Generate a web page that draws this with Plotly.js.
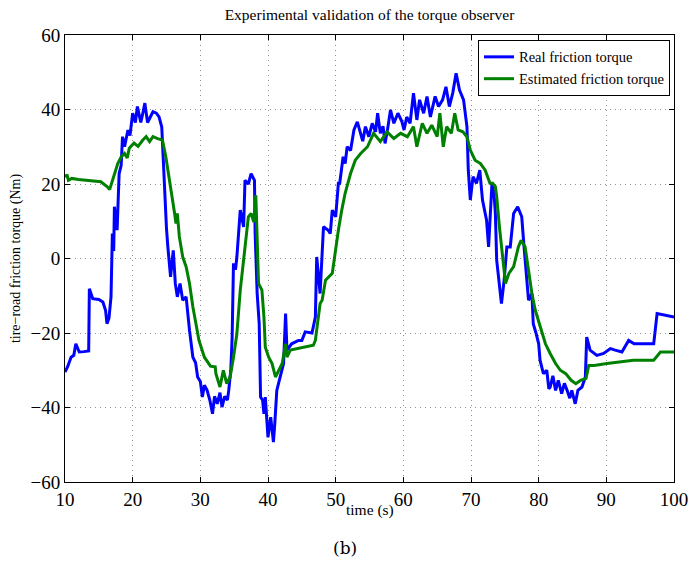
<!DOCTYPE html>
<html>
<head>
<meta charset="utf-8">
<script src="https://cdn.plot.ly/plotly-3.0.1.min.js"></script>
<style>html,body{margin:0;padding:0;background:#fff;}#chart{width:689px;height:566px;}</style>
</head>
<body>
<div id="chart"></div>
<script>
// Real friction torque (blue)
var timeReal = [10.0,10.4,10.9,11.3,11.6,12.1,12.8,13.5,13.6,14.1,15.0,15.6,16.0,16.2,16.5,16.8,17.0,17.2,17.3,17.7,18.0,18.3,18.5,18.8,19.3,19.6,20.0,20.4,20.7,21.2,21.5,21.8,22.2,22.6,23.0,23.5,23.9,24.3,24.7,25.0,25.2,25.6,26.0,26.3,26.6,27.0,27.4,27.9,28.4,28.9,29.3,29.6,30.0,30.3,30.6,31.0,31.4,31.8,32.1,32.5,32.9,33.2,33.6,34.0,34.2,34.5,34.7,34.9,35.2,35.4,35.9,36.2,36.4,36.6,37.1,37.5,38.0,38.1,38.4,38.7,38.9,39.2,39.4,39.6,40.0,40.4,40.8,41.0,41.3,41.8,42.3,42.6,42.8,43.5,44.5,45.0,45.5,46.5,47.0,47.2,47.7,48.2,48.9,49.2,49.5,50.0,50.4,50.6,51.1,51.4,51.7,52.2,52.7,53.2,53.7,54.0,54.4,54.9,55.4,55.9,56.2,56.6,57.0,57.3,57.7,58.1,58.6,59.2,59.8,60.1,60.5,61.0,61.5,62.0,62.4,63.0,63.5,64.0,64.7,65.2,65.8,66.3,66.8,67.3,67.8,68.3,68.9,69.4,69.6,69.9,70.3,70.8,71.3,71.7,72.1,72.3,72.6,73.1,73.4,73.6,73.8,74.2,74.5,74.9,75.3,75.8,76.3,76.9,77.5,77.8,78.3,78.5,79.0,79.2,79.6,80.0,80.2,80.7,81.2,81.5,81.7,82.1,82.5,82.9,83.4,83.8,84.2,84.6,84.9,85.4,85.8,86.4,86.9,87.1,87.6,88.6,89.6,90.6,91.3,92.3,93.3,94.1,95.5,97.0,97.5,98.5,100.0];
var torqueReal = [-30.5,-29,-26.5,-26,-22.9,-25.1,-25,-24.8,-8.1,-10.8,-11,-11.7,-14,-17.5,-16,-10.3,6.7,2,13.9,7.6,22.8,25,32.7,30,34.5,33,39,36.5,40.8,36.5,39,41.7,36.5,38,39.4,39,38,35.3,18.4,8,3.1,-4.9,2.2,-6.7,-10.3,-6.7,-11.2,-10.3,-19.3,-26.5,-28,-31.8,-33,-37.2,-34,-35.4,-38,-41.7,-37,-39,-36,-39.9,-37,-38,-35.4,-30,-21.1,-1.3,-3,0.4,13,10,8.5,21,20,22.8,21,6.7,-9.4,-17.5,-37.2,-38,-41.7,-37.2,-48,-42.6,-49.3,-44.4,-35.4,-31.8,-28.2,-14.8,-24.6,-22.9,-22,-22,-19.7,-20,-15.7,0.4,-9.4,8.5,7.6,6.7,13,11.2,20.2,20.2,27.3,25.5,30,29,34.5,36.7,33.6,31.5,35.4,32.7,36.3,34,39,33.6,35.5,30.9,35,39.9,36.3,39,36.7,34.5,38,36.3,44.4,37.2,42.6,39,43.5,38,43.5,40.8,42.6,46.1,40.8,44.4,49.7,45.2,42.6,35.4,23.7,15.7,22,20.2,23.7,15.7,12.1,10.3,3.1,20.2,17.5,12.1,-0.5,-7.6,-12.1,-5.8,3.1,3.1,12.1,13.9,11.2,4,-7.6,-11.2,-9.4,-17.5,-20,-22.9,-27.3,-30.9,-30,-35,-34.5,-31.5,-35.4,-32.7,-36.3,-33.5,-35.4,-37.5,-35.4,-39,-35.4,-34.5,-31.8,-21.1,-24.6,-26,-25.5,-24.2,-24.6,-25.1,-22,-22.9,-22.9,-22.9,-14.8,-15.2,-15.7];

// Estimated friction torque (green)
var timeEst = [10.0,10.3,10.5,11.0,12.0,13.0,14.0,15.3,16.3,16.6,16.8,17.3,17.8,18.3,18.8,19.2,19.5,20.2,20.8,21.5,22.0,22.5,23.0,23.7,24.4,24.9,25.4,25.8,26.2,26.4,26.6,26.9,27.4,27.9,28.4,28.9,29.4,29.8,30.6,31.5,32.2,32.3,32.9,33.4,33.9,34.4,34.9,35.4,35.9,36.4,36.8,37.1,37.5,37.9,38.2,38.4,38.6,39.1,39.4,39.6,40.1,40.6,41.1,41.6,42.1,42.6,42.8,43.3,44.5,45.8,46.7,47.0,47.2,47.5,47.7,48.0,48.5,49.5,49.9,50.4,50.9,51.4,52.2,52.9,53.7,54.7,55.6,56.6,57.6,58.6,59.6,60.6,61.5,62.0,62.8,63.5,64.2,65.0,65.4,65.9,66.4,67.1,67.6,68.1,68.8,69.4,69.9,70.6,71.4,72.1,72.8,73.2,73.6,73.8,74.2,74.6,75.1,75.6,76.3,77.0,77.4,78.0,78.5,79.0,79.5,80.2,81.0,81.7,82.5,83.2,84.0,84.8,85.5,86.2,87.0,87.4,88.2,90.1,92.1,94.0,97.0,98.0,100.0];
var torqueEst = [21.9,22.5,21,21.5,21.2,21,20.9,20.6,19.2,18.5,19.7,22.4,25.5,27.3,28.2,27,29.6,31,30.1,31.8,32.7,31.4,32.7,32.2,31.8,27.3,21.9,16.6,12.1,9.4,12.1,5.8,0.4,-2.2,-6.7,-13,-17.5,-22,-26.5,-28.9,-29.1,-30.9,-34.5,-30,-33.6,-31.8,-26.5,-20.2,-8.5,-0.5,6.7,11.2,12.1,9.8,17,4.9,-6.7,-8.5,-15.7,-23.8,-26.5,-28.2,-31.8,-30,-28.2,-22.9,-26.5,-24.6,-24.2,-23.8,-23.3,-22,-19.3,-13.9,-12.1,-11.2,-5.8,-4,1.3,7.6,13,17.5,22.8,26.4,28.2,30,33.6,31.4,34,32.2,33.6,32.7,35.4,30,36.3,33.6,35.8,32.7,39,30,35.4,33.6,39,34.5,34,32.7,29.1,26.4,25.5,23.7,20.2,20.2,19.3,16.6,8.5,1.3,-6.7,-4,-2.2,3.1,4.9,3.1,-3.1,-9.4,-13.9,-18.4,-22.9,-25.5,-28.2,-30,-30.9,-32.7,-33.6,-32.7,-32.2,-28.7,-28.7,-28.2,-27.8,-27.3,-27.3,-25.1,-25.1];

var seriesNames = ['Real friction torque', 'Estimated friction torque'];
var xTicks = [10,20,30,40,50,60,70,80,90,100];
var yTicks = [-60,-40,-20,0,20,40,60];

var serif = 'Liberation Serif, Times New Roman, serif';

var traces = [
  {x: timeReal, y: torqueReal, name: seriesNames[0], type: 'scatter', mode: 'lines',
   line: {color: '#0000ff', width: 3}},
  {x: timeEst, y: torqueEst, name: seriesNames[1], type: 'scatter', mode: 'lines',
   line: {color: '#008000', width: 3}}
];

var axisCommon = {
  showline: true, linecolor: '#000', linewidth: 1, mirror: 'ticks',
  ticks: 'inside', ticklen: 5, tickcolor: '#000', tickwidth: 1,
  showgrid: true, gridcolor: '#909090', griddash: '1px,4px', gridwidth: 1,
  zeroline: false, tickfont: {family: serif, size: 19, color: '#000'}
};

var layout = {
  width: 689, height: 566,
  margin: {l: 65, r: 15, t: 35, b: 84},
  paper_bgcolor: '#fff', plot_bgcolor: '#fff',
  font: {family: serif, color: '#000'},
  title: {text: 'Experimental validation of the torque observer', font: {family: serif, size: 15.5, color: '#000'},
          x: 0.5, xref: 'paper', y: 1 - 15/566, yref: 'container', yanchor: 'middle'},
  xaxis: Object.assign({}, axisCommon, {range: [10, 100], tickvals: xTicks}),
  yaxis: Object.assign({}, axisCommon, {range: [-60, 60], tickvals: yTicks,
          title: {text: 'tire\u2212road friction torque (Nm)', font: {family: serif, size: 14, color: '#000'}, standoff: 6}}),
  showlegend: true,
  legend: {x: 0.9934, xanchor: 'right', y: 0.989, yanchor: 'top', bgcolor: '#fff',
           bordercolor: '#000', borderwidth: 1, font: {family: serif, size: 14.5, color: '#000'},
           tracegroupgap: 0, itemwidth: 30},
  annotations: [
    {text: 'time (s)', xref: 'paper', yref: 'paper', x: 0.5, y: -0.0626,
     xanchor: 'center', yanchor: 'middle', showarrow: false,
     font: {family: serif, size: 15.5, color: '#000'}},
    {text: '(b)', xref: 'paper', yref: 'paper', x: 0.46, y: -0.148,
     xanchor: 'center', yanchor: 'middle', showarrow: false,
     font: {family: 'DejaVu Serif, serif', size: 17, color: '#000'}}]
};

Plotly.newPlot('chart', traces, layout, {displayModeBar: false, staticPlot: true});
</script>
</body>
</html>
